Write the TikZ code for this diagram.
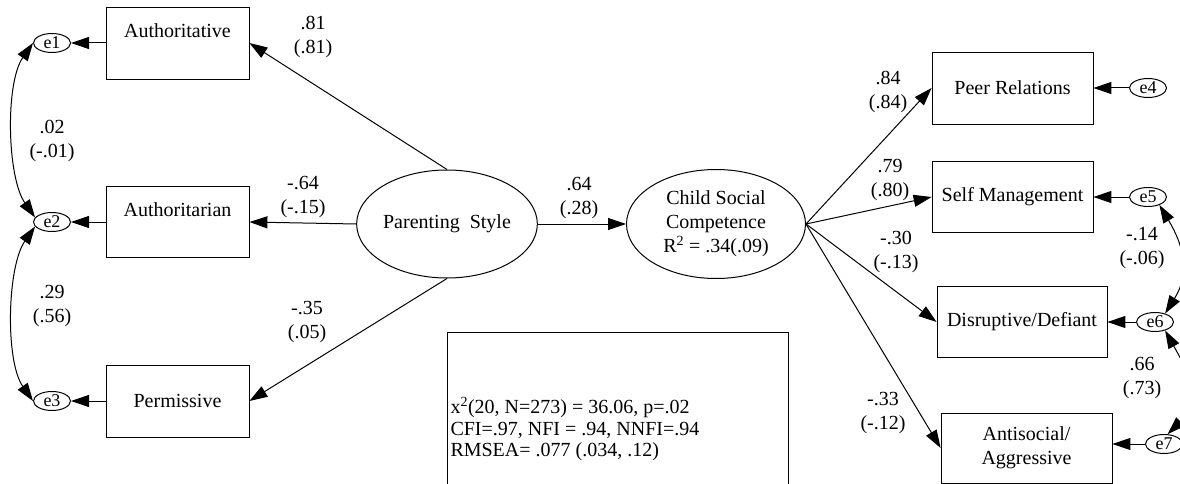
\documentclass[tikz,border=0pt]{standalone}
\usepackage{fontspec}
\setmainfont{Liberation Serif}
\usetikzlibrary{arrows.meta,shapes.geometric}

\begin{document}
\begin{tikzpicture}[x=1pt,y=-1pt,line width=1pt,>={Triangle[length=18pt,width=12pt]},
  font=\fontsize{20}{24}\selectfont,
  obs/.style={draw,line width=0.8pt,inner sep=0pt,align=center},
  lat/.style={draw,ellipse,inner sep=0pt,align=center},
  err/.style={draw,ellipse,inner sep=0pt,minimum width=37pt,minimum height=19pt,font=\fontsize{18}{22}\selectfont},
  coef/.style={inner sep=0pt,align=center}]
\useasboundingbox (0,0) rectangle (1180,484);
\clip (0,0) rectangle (1180,484);

\node[lat,minimum width=180pt,minimum height=108pt](ps) at (447,224) {Parenting\ \ Style};
\node[lat,minimum width=179pt,minimum height=109pt](csc) at (716,224) {Child Social\\Competence\\R\textsuperscript{2} = .34(.09)};

\node[obs,minimum width=143pt,minimum height=72pt](autv) at (177.5,43) {Authoritative\\\mbox{}};
\node[obs,minimum width=143pt,minimum height=71pt](autn) at (177.5,222) {Authoritarian\\\mbox{}};
\node[obs,minimum width=143pt,minimum height=72pt](perm) at (177.5,401) {Permissive};
\node[err](e1) at (52,43) {e1};
\node[err](e2) at (52,222) {e2};
\node[err](e3) at (52,401) {e3};

\node[obs,minimum width=161pt,minimum height=72pt](peer) at (1012.5,88) {Peer Relations};
\node[obs,minimum width=161pt,minimum height=71pt](selfm) at (1012.5,197) {Self Management};
\node[obs,minimum width=170pt,minimum height=71pt](disr) at (1022,322) {Disruptive/Defiant};
\node[obs,minimum width=171pt,minimum height=70pt](anti) at (1026.5,448) {Antisocial/\\Aggressive};
\node[err](e4) at (1148,88) {e4};
\node[err](e5) at (1148,197) {e5};
\node[err](e6) at (1155,322) {e6};
\node[err](e7) at (1164,444) {e7};

\draw[->](ps.north)--(autv.east);
\draw[->](ps.west)--(autn.east);
\draw[->](ps.south)--(perm.east);
\draw[->](ps.east)--(csc.west);
\draw[->](csc.east)--(peer.west);
\draw[->](csc.east)--(selfm.west);
\draw[->](csc.east)--(disr.west);
\draw[->](csc.east)--(anti.west);

\draw[->](autv.west)--(e1.east);
\draw[->](autn.west)--(e2.east);
\draw[->](perm.west)--(e3.east);
\draw[->](e4.west)--(peer.east);
\draw[->](e5.west)--(selfm.east);
\draw[->](e6.west)--(disr.east);
\draw[->](e7.west)--(anti.east |- e7.west);

% correlated errors
\draw[<->](e1.west) .. controls +(-28,40) and +(-28,-40) .. (e2.165);
\draw[<->](e2.195) .. controls +(-28,40) and +(-28,-40) .. (e3.west);
\draw[<->](e5.-35) .. controls +(25,42) and +(25,-40) .. (e6.40);
\draw[<->](e6.-40) .. controls +(25,45) and +(36,-35) .. (e7.70);

\node[coef](c1) at (313,37) {.81\\(.81)};
\node[coef](c2) at (303,197) {-.64\\(-.15)};
\node[coef](c3) at (307,322) {-.35\\(.05)};
\node[coef](c4) at (579,198) {.64\\(.28)};
\node[coef](c5) at (888,92) {.84\\(.84)};
\node[coef](c6) at (890,180) {.79\\(.80)};
\node[coef](c7) at (896,252) {-.30\\(-.13)};
\node[coef](c8) at (883,413) {-.33\\(-.12)};
\node[coef](c9) at (52,141) {.02\\(-.01)};
\node[coef](c10) at (52,306) {.29\\(.56)};
\node[coef](c11) at (1142,248) {-.14\\(-.06)};
\node[coef](c12) at (1142,378) {.66\\(.73)};

\node[obs,minimum width=341pt,minimum height=160pt](fitbox) at (617.5,412) {};
\node[coef,anchor=west,align=left,font=\fontsize{20}{21.5}\selectfont](fitstat) at (450,429)
  {x\textsuperscript{2}(20, N=273) = 36.06, p=.02\\CFI=.97, NFI = .94, NNFI=.94\\RMSEA= .077 (.034, .12)};
\end{tikzpicture}
\end{document}
